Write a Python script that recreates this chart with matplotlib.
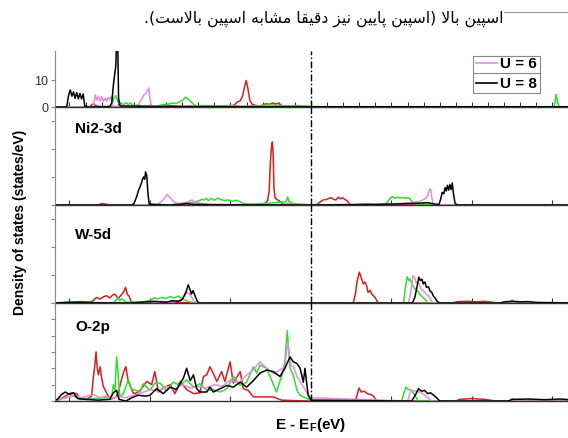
import matplotlib
matplotlib.use("Agg")
import matplotlib.pyplot as plt
from matplotlib.lines import Line2D
from matplotlib.patches import Rectangle
from matplotlib.ticker import MultipleLocator

plt.rcParams["font.family"] = ["Liberation Sans", "DejaVu Sans"]
plt.rcParams["mathtext.fontset"] = "custom"
plt.rcParams["mathtext.rm"] = "Liberation Sans:bold"
plt.rcParams["mathtext.bf"] = "Liberation Sans:bold"

# ---- data: (E - EF in eV, DOS) ----
caption = "اسپین بالا (اسپین پایین نیز دقیقا مشابه اسپین بالاست)."
legend_labels = ["U = 6", "U = 8"]
panel_names = ["", "Ni2-3d", "W-5d", "O-2p"]

top_red = [(-6.4, 0), (-5.5, 0), (-5.45, 0.8), (-5.4, 1.2), (-5.35, 0.5), (-5.2, 0), (-3.8, 0.2),
           (-3.5, 0.5), (-3.2, 0.2), (-2.5, 0.4), (-2.0, 0.2), (-1.9, 0.8), (-1.84, 1.8), (-1.76, 2.3),
           (-1.7, 4.0), (-1.65, 7.5), (-1.61, 9.8), (-1.57, 7.0), (-1.52, 2.5), (-1.46, 1.0), (-1.38, 0.6),
           (-1.25, 0.3), (-1.12, 1.2), (-1.02, 1.0), (-0.95, 1.5), (-0.88, 1.1), (-0.8, 1.4), (-0.73, 0.5),
           (-0.5, 0.2), (0, 0), (6.6, 0)]
top_green = [(-6.4, 0), (-5.0, 0), (-4.93, 1.5), (-4.89, 3.5), (-4.85, 4.2), (-4.81, 2.5), (-4.77, 1.2),
             (-4.72, 1.5), (-4.66, 0.8), (-4.6, 1.6), (-4.54, 1.0), (-4.48, 1.4), (-4.42, 0.5), (-4.3, 0.8),
             (-4.2, 0.3), (-4.0, 0.5), (-3.85, 0.3), (-3.7, 0.8), (-3.55, 1.0), (-3.45, 1.5), (-3.35, 1.3),
             (-3.25, 2.0), (-3.18, 2.6), (-3.12, 3.6), (-3.07, 3.2), (-3.0, 2.2), (-2.92, 1.0), (-2.85, 0.3),
             (-2.6, 0.5), (-2.3, 0.3), (-2.0, 0.6), (-1.7, 0.3), (-1.3, 0.5), (-1.0, 0.8), (-0.6, 0.4),
             (-0.3, 0.5), (0.0, 0.2), (0.5, 0), (6.0, 0), (6.05, 0.5), (6.09, 4.6), (6.13, 1.5), (6.17, 0),
             (6.6, 0)]
top_violet = [(-6.4, 0), (-5.45, 0), (-5.4, 1.0), (-5.36, 4.5), (-5.32, 2.5), (-5.28, 4.0), (-5.24, 2.2),
              (-5.2, 3.8), (-5.16, 2.0), (-5.12, 3.3), (-5.08, 2.2), (-5.04, 3.5), (-5.0, 2.8), (-4.96, 4.0),
              (-4.93, 0.3), (-4.5, 0.2), (-4.3, 0.5), (-4.25, 2.0), (-4.2, 3.0), (-4.15, 4.5), (-4.1, 5.2),
              (-4.06, 6.0), (-4.03, 7.0), (-4.0, 3.0), (-3.97, 0.3), (-3.0, 0.1), (0, 0), (6.6, 0)]
top_black = [(-6.4, 0), (-6.07, 0), (-6.02, 4.5), (-5.98, 6.3), (-5.94, 4.0), (-5.9, 5.6), (-5.86, 3.2),
             (-5.82, 5.3), (-5.78, 3.0), (-5.74, 5.0), (-5.7, 3.0), (-5.66, 4.8), (-5.62, 0.3), (-5.5, 0),
             (-5.0, 0.2), (-4.95, 1.5), (-4.91, 8), (-4.87, 13), (-4.85, 15), (-4.83, 24), (-4.8, 22),
             (-4.78, 3), (-4.74, 0.4), (-4.0, 0.2), (-2.0, 0.1), (0, 0.1), (6.6, 0.1)]

ni_red = [(-6.4, 0), (-5.3, 0), (-5.2, 0.5), (-5.1, 0.3), (-5.0, 0), (-1.3, 0), (-1.15, 0.5), (-1.08, 1.5),
          (-1.04, 5.0), (-1.01, 15.0), (-0.98, 21.0), (-0.96, 22.5), (-0.94, 18.0), (-0.92, 6.0),
          (-0.89, 2.5), (-0.85, 2.0), (-0.8, 1.6), (-0.75, 1.0), (-0.7, 0.3), (0, 0), (0.15, 0.2),
          (0.22, 1.0), (0.3, 1.8), (0.39, 2.0), (0.45, 2.4), (0.51, 2.6), (0.56, 2.0), (0.62, 1.8),
          (0.68, 2.8), (0.73, 2.2), (0.78, 2.6), (0.84, 2.0), (0.9, 1.5), (0.95, 0.5), (1.0, 0), (1.2, 0.2),
          (1.4, 0.3), (1.55, 0.1), (1.7, 0), (6.6, 0)]
ni_green = [(-6.4, 0), (-3.5, 0), (-3.3, 0.5), (-3.0, 0.8), (-2.78, 1.5), (-2.72, 2.0), (-2.66, 1.8),
            (-2.6, 2.4), (-2.55, 1.6), (-2.48, 2.3), (-2.4, 1.7), (-2.32, 2.5), (-2.25, 2.0), (-2.15, 1.6),
            (-2.05, 1.8), (-1.95, 1.3), (-1.85, 1.7), (-1.77, 1.2), (-1.7, 0.6), (-1.5, 0.3), (-1.2, 0.5),
            (-0.95, 0.8), (-0.75, 1.0), (-0.62, 1.2), (-0.58, 2.9), (-0.54, 1.0), (-0.4, 0.4), (-0.1, 0.2),
            (0, 0), (1.6, 0), (1.85, 0.3), (1.92, 1.5), (1.97, 2.5), (2.03, 3.0), (2.09, 2.4), (2.15, 2.8),
            (2.21, 2.5), (2.28, 2.7), (2.35, 2.4), (2.42, 2.6), (2.5, 1.5), (2.58, 0.3), (2.7, 0), (6.6, 0)]
ni_violet = [(-6.4, 0), (-3.8, 0), (-3.75, 0.8), (-3.68, 1.8), (-3.62, 2.8), (-3.57, 3.8), (-3.52, 2.8),
             (-3.46, 2.0), (-3.4, 1.0), (-3.3, 0.5), (-3.1, 0.8), (-2.95, 1.8), (-2.9, 1.2), (-2.8, 0.6),
             (-2.5, 0.3), (-2.0, 0.2), (0, 0.1), (1.8, 0.2), (2.2, 0.5), (2.5, 0.9), (2.7, 1.3), (2.8, 2.0),
             (2.86, 2.5), (2.9, 3.5), (2.94, 5.3), (2.97, 5.8), (3.0, 3.0), (3.03, 0.5), (3.1, 0), (6.6, 0)]
ni_black = [(-6.4, 0), (-4.45, 0), (-4.4, 0.5), (-4.33, 3.0), (-4.29, 5.0), (-4.25, 6.4), (-4.22, 7.5),
            (-4.19, 9.0), (-4.16, 10.0), (-4.13, 9.2), (-4.11, 11.8), (-4.08, 10.5), (-4.05, 4.0),
            (-4.02, 0.3), (-3.5, 0), (-3.2, 0.3), (-3.1, 0.6), (-3.0, 0.3), (-2.5, 0.1), (0, 0), (1.5, 0.2),
            (2.2, 0.4), (2.6, 0.6), (2.9, 0.8), (3.1, 0.3), (3.18, 0.2), (3.22, 2.0), (3.26, 4.5), (3.3, 4.0),
            (3.33, 6.2), (3.36, 5.0), (3.39, 7.0), (3.42, 5.3), (3.45, 7.3), (3.48, 5.5), (3.51, 7.8),
            (3.54, 4.0), (3.58, 0.5), (3.65, 0), (6.6, 0)]

w_red = [(-6.4, 0), (-6.0, 0.3), (-5.7, 0.5), (-5.5, 0.3), (-5.41, 0.8), (-5.33, 2.0), (-5.24, 1.4),
         (-5.16, 2.2), (-5.08, 2.6), (-5.0, 1.8), (-4.93, 2.8), (-4.87, 3.2), (-4.79, 1.5), (-4.72, 2.8),
         (-4.66, 3.8), (-4.61, 5.6), (-4.56, 3.0), (-4.52, 2.5), (-4.47, 0.5), (-4.4, 0), (-3.5, 0.2),
         (-3.0, 0.1), (0, 0), (1.05, 0), (1.1, 3.0), (1.15, 8.0), (1.2, 11.0), (1.25, 9.0), (1.3, 6.8),
         (1.34, 7.5), (1.38, 6.2), (1.42, 3.8), (1.47, 4.5), (1.51, 3.2), (1.56, 2.5), (1.59, 2.0),
         (1.63, 1.0), (1.67, 0), (3.5, 0), (3.65, 0.5), (3.9, 0.6), (4.1, 0.4), (4.3, 0.6), (4.5, 0.3),
         (4.6, 0), (6.6, 0)]
w_green = [(-6.4, 0), (-4.9, 0), (-4.85, 1.0), (-4.8, 1.8), (-4.75, 0.8), (-4.7, 1.5), (-4.6, 0.3),
           (-4.2, 0.3), (-4.0, 1.0), (-3.9, 1.8), (-3.8, 1.5), (-3.7, 2.0), (-3.6, 1.6), (-3.5, 2.3),
           (-3.4, 1.8), (-3.3, 2.5), (-3.2, 1.5), (-3.1, 0.8), (-3.0, 0.3), (-2.9, 0), (0, 0), (2.3, 0),
           (2.34, 5.0), (2.39, 9.4), (2.43, 8.0), (2.46, 8.6), (2.52, 6.5), (2.58, 5.0), (2.64, 4.5),
           (2.71, 3.0), (2.78, 2.0), (2.85, 1.0), (2.9, 0), (4.9, 0), (4.95, 0.5), (5.0, 1.0), (5.05, 0.3),
           (5.1, 0), (6.6, 0)]
w_violet = [(-6.4, 0), (-3.5, 0), (-3.3, 0.8), (-3.2, 1.5), (-3.12, 3.0), (-3.08, 3.8), (-3.02, 3.2),
            (-2.96, 2.0), (-2.9, 0.5), (-2.8, 0), (0, 0), (2.42, 0), (2.48, 4.0), (2.54, 9.8), (2.59, 8.5),
            (2.62, 7.0), (2.67, 7.5), (2.72, 5.5), (2.78, 4.5), (2.84, 3.5), (2.92, 2.5), (2.98, 1.0),
            (3.04, 0), (6.6, 0)]
w_black = [(-6.4, 0), (-6.0, 0.2), (-5.5, 0.1), (-4.5, 0), (-4.2, 0.3), (-3.9, 0.6), (-3.6, 0.3),
           (-3.45, 0.8), (-3.3, 0.6), (-3.22, 1.0), (-3.17, 2.0), (-3.12, 3.5), (-3.08, 5.0), (-3.05, 6.5),
           (-3.01, 5.0), (-2.97, 3.2), (-2.93, 4.4), (-2.88, 2.5), (-2.82, 0.5), (-2.78, 0), (0, 0),
           (2.52, 0), (2.58, 2.0), (2.63, 5.5), (2.68, 9.2), (2.72, 8.0), (2.76, 8.5), (2.79, 6.8),
           (2.83, 7.5), (2.87, 5.6), (2.92, 5.8), (2.96, 4.2), (3.0, 3.8), (3.04, 2.5), (3.08, 1.8),
           (3.14, 0.5), (3.2, 0), (4.7, 0), (4.8, 0.4), (5.0, 0.6), (5.2, 0.4), (5.4, 0.5), (5.6, 0.2),
           (6.6, 0)]

o_red = [(-6.4, 0), (-6.32, 0), (-6.03, 0.4), (-5.95, 0.5), (-5.82, 0.45), (-5.74, 0.1), (-5.57, 0.1),
         (-5.45, 0.3), (-5.41, 1.4), (-5.37, 2.2), (-5.34, 3.0), (-5.31, 2.0), (-5.28, 1.6), (-5.24, 2.1),
         (-5.2, 1.4), (-5.16, 0.9), (-5.08, 0.5), (-4.99, 0.1), (-4.87, 0.2), (-4.79, 0.5), (-4.7, 1.4),
         (-4.65, 1.8), (-4.6, 2.1), (-4.54, 1.2), (-4.41, 0.45), (-4.33, 0.5), (-4.25, 0.65), (-4.17, 0.9),
         (-4.08, 1.2), (-3.96, 1.0), (-3.88, 1.8), (-3.79, 0.55), (-3.67, 0.8), (-3.5, 1.0), (-3.38, 0.45),
         (-3.25, 1.2), (-3.09, 0.7), (-2.92, 0.45), (-2.76, 0.5), (-2.67, 1.5), (-2.59, 1.6), (-2.51, 2.1),
         (-2.43, 1.7), (-2.34, 1.2), (-2.22, 1.8), (-2.14, 1.2), (-2.01, 2.4), (-1.93, 1.1), (-1.76, 1.8),
         (-1.68, 0.75), (-1.56, 0.65), (-1.43, 0.25), (-1.27, 0.25), (-0.94, 0.25), (-0.73, 0.05),
         (-0.1, 0), (1.1, 0), (1.15, 0.4), (1.19, 0.8), (1.25, 0.55), (1.32, 0.6), (1.4, 0.45),
         (1.48, 0.4), (1.55, 0.3), (1.63, 0), (3.6, 0), (3.7, 0.1), (4.0, 0.15), (4.3, 0.1), (4.6, 0),
         (6.6, 0)]
o_green = [(-6.4, 0), (-6.1, 0.2), (-5.9, 0.3), (-5.7, 0.1), (-5.4, 0.15), (-5.1, 0.2), (-4.95, 0.3),
           (-4.91, 1.0), (-4.87, 0.65), (-4.83, 2.7), (-4.79, 1.6), (-4.75, 0.25), (-4.66, 0.45),
           (-4.54, 1.3), (-4.46, 0.75), (-4.25, 0.55), (-4.17, 1.05), (-4.0, 0.65), (-3.88, 1.1),
           (-3.75, 1.1), (-3.59, 0.65), (-3.42, 1.15), (-3.25, 0.95), (-3.09, 1.3), (-2.92, 0.85),
           (-2.76, 1.05), (-2.59, 0.65), (-2.43, 0.7), (-2.26, 0.55), (-2.09, 0.75), (-1.93, 1.5),
           (-1.76, 0.95), (-1.6, 1.15), (-1.43, 2.1), (-1.35, 1.7), (-1.27, 2.2), (-1.1, 2.0), (-0.94, 1.05),
           (-0.86, 0.55), (-0.73, 1.5), (-0.65, 2.4), (-0.59, 4.3), (-0.52, 2.0), (-0.44, 1.6),
           (-0.35, 0.65), (-0.27, 0.35), (-0.1, 0.15), (0, 0.05), (2.25, 0), (2.31, 0.5), (2.36, 0.85),
           (2.42, 0.7), (2.5, 0.65), (2.58, 0.35), (2.66, 0), (4.95, 0), (5.0, 0.15), (5.05, 0), (6.6, 0)]
o_violet = [(-6.4, 0), (-6.1, 0.2), (-5.9, 0.35), (-5.7, 0.2), (-5.55, 0.3), (-5.4, 0.4), (-5.25, 0.2),
            (-5.1, 0.3), (-4.95, 0.15), (-4.8, 0.3), (-4.6, 0.2), (-4.4, 0.35), (-4.2, 0.5), (-4.0, 0.7),
            (-3.8, 0.6), (-3.6, 0.9), (-3.4, 0.7), (-3.2, 1.0), (-3.0, 0.8), (-2.8, 0.9), (-2.6, 0.8),
            (-2.4, 1.0), (-2.2, 0.9), (-2.0, 1.3), (-1.8, 1.1), (-1.6, 1.6), (-1.43, 1.9), (-1.27, 2.4),
            (-1.1, 2.0), (-0.94, 1.7), (-0.77, 1.9), (-0.65, 2.1), (-0.58, 3.6), (-0.5, 2.2), (-0.44, 2.1),
            (-0.35, 1.5), (-0.2, 0.9), (-0.1, 0.5), (0, 0.2), (2.4, 0), (2.46, 0.5), (2.52, 0.65),
            (2.6, 0.6), (2.7, 0.55), (2.8, 0.4), (2.9, 0.2), (3.0, 0), (6.6, 0)]
o_black = [(-6.4, 0), (-6.3, 0.1), (-6.2, 0.4), (-6.1, 0.55), (-6.0, 0.4), (-5.9, 0.5), (-5.8, 0.15),
           (-5.6, 0.1), (-5.3, 0.05), (-5.0, 0.1), (-4.91, 0.5), (-4.83, 0.65), (-4.77, 0.1), (-4.6, 0.0),
           (-4.45, 0.2), (-4.3, 0.35), (-4.1, 0.3), (-4.0, 0.35), (-3.84, 0.75), (-3.67, 0.45),
           (-3.5, 0.85), (-3.34, 0.7), (-3.17, 1.4), (-3.09, 2.0), (-3.0, 1.25), (-2.92, 1.6), (-2.84, 0.75),
           (-2.76, 0.55), (-2.59, 0.55), (-2.51, 0.85), (-2.43, 0.55), (-2.26, 0.75), (-2.09, 0.95),
           (-1.93, 0.85), (-1.76, 1.15), (-1.6, 0.85), (-1.43, 1.25), (-1.27, 1.7), (-1.1, 1.9),
           (-0.94, 1.8), (-0.77, 1.5), (-0.65, 2.0), (-0.52, 2.7), (-0.44, 2.4), (-0.35, 2.3), (-0.27, 2.0),
           (-0.19, 1.15), (-0.15, 2.0), (-0.07, 0.35), (0, 0.05), (2.5, 0), (2.6, 0.4), (2.67, 0.75),
           (2.75, 0.6), (2.82, 0.65), (2.9, 0.45), (2.97, 0.5), (3.05, 0.35), (3.12, 0.2), (3.2, 0),
           (4.9, 0), (5.0, 0.1), (5.4, 0.12), (5.8, 0.08), (6.2, 0.12), (6.6, 0.05)]

panels = [
    [top_red, top_green, top_violet, top_black],
    [ni_red, ni_green, ni_violet, ni_black],
    [w_red, w_green, w_violet, w_black],
    [o_red, o_green, o_violet, o_black],
]
ylims = [(0, 20.7), (0, 35), (0, 35), (0, 6)]
ytick_step = [10, 10, 10, 1]
colors = ["#d81e1e", "#2ee02e", "#e58be5", "#000000"]

# ---- Persian caption: simple shaping + visual (RTL) ordering ----
FORMS = {
    "ا": ("\uFE8D", "\uFE8E", None, None), "د": ("\uFEA9", "\uFEAA", None, None),
    "ز": ("\uFEAF", "\uFEB0", None, None),
    "ب": ("\uFE8F", "\uFE90", "\uFE91", "\uFE92"), "پ": ("\uFB56", "\uFB57", "\uFB58", "\uFB59"),
    "ت": ("\uFE95", "\uFE96", "\uFE97", "\uFE98"), "س": ("\uFEB1", "\uFEB2", "\uFEB3", "\uFEB4"),
    "ش": ("\uFEB5", "\uFEB6", "\uFEB7", "\uFEB8"), "ق": ("\uFED5", "\uFED6", "\uFED7", "\uFED8"),
    "ل": ("\uFEDD", "\uFEDE", "\uFEDF", "\uFEE0"), "م": ("\uFEE1", "\uFEE2", "\uFEE3", "\uFEE4"),
    "ن": ("\uFEE5", "\uFEE6", "\uFEE7", "\uFEE8"), "ه": ("\uFEE9", "\uFEEA", "\uFEEB", "\uFEEC"),
    "ی": ("\uFBFC", "\uFBFD", "\uFBFE", "\uFBFF"),
}


def shape_rtl(s):
    out = []
    i = 0
    while i < len(s):
        c = s[i]
        if c not in FORMS:
            out.append(c)
            i += 1
            continue
        prev_j = i > 0 and s[i - 1] in FORMS and FORMS[s[i - 1]][2] is not None
        if c == "ل" and i + 1 < len(s) and s[i + 1] == "ا":
            out.append("\uFEFC" if prev_j else "\uFEFB")
            i += 2
            continue
        next_j = i + 1 < len(s) and s[i + 1] in FORMS and FORMS[c][2] is not None
        iso, fin, ini, med = FORMS[c]
        if prev_j and next_j:
            out.append(med)
        elif prev_j:
            out.append(fin)
        elif next_j:
            out.append(ini)
        else:
            out.append(iso)
        i += 1
    swap = {"(": ")", ")": "("}
    return "".join(swap.get(ch, ch) for ch in reversed(out))


W, H = 568, 439
fig = plt.figure(figsize=(W / 100, H / 100), dpi=100)

bounds = [(52, 108), (108, 206), (206, 304), (304, 402)]  # top/bottom in pixels
x_left, x_right = -6.36, 6.6
px_per_ev = 40.25
ax_w = (x_right - x_left) * px_per_ev / W

for k, (series, (top, bot)) in enumerate(zip(panels, bounds)):
    ax = fig.add_axes([55 / W, 1 - bot / H, ax_w, (bot - top) / H])
    for pts, c in zip(series, colors):
        e, d = zip(*pts)
        ax.plot(e, d, color=c, lw=1.1)
    ax.axvline(0, color="k", lw=1.0, ls=(0, (5, 1.6, 1.2, 1.6)))
    ax.set_xlim(x_left, x_right)
    ax.set_ylim(*ylims[k])
    ax.yaxis.set_major_locator(MultipleLocator(ytick_step[k]))
    ax.xaxis.set_major_locator(MultipleLocator(0.4 if k == 0 else 2))
    ax.tick_params(axis="x", direction="in", length=3.5, width=0.8, colors="#333333",
                   labelbottom=False)
    ax.tick_params(axis="y", direction="out", length=3, width=0.8, colors="#888888",
                   labelleft=(k == 0), labelsize=9, labelcolor="#333333", pad=2)
    if k == 0:
        ax.set_yticks([0, 10])
    ax.spines["top"].set_visible(False)
    ax.spines["right"].set_visible(False)
    ax.spines["left"].set_color("#888888")
    ax.spines["left"].set_linewidth(0.8)
    ax.spines["bottom"].set_color("#333333")
    ax.spines["bottom"].set_linewidth(1.0)
    ax.patch.set_alpha(0)
    if panel_names[k]:
        ypos = {1: 0.79, 2: 0.70, 3: 0.77}[k]
        ax.text(20 / (ax_w * W), ypos, panel_names[k], transform=ax.transAxes,
                fontsize=11, fontweight="bold", va="center", ha="left")

# legend box (entries for the visible curves)
fig.add_artist(Rectangle((473 / W, 1 - 94 / H), 67 / W, 37 / H, transform=fig.transFigure,
                         facecolor="white", edgecolor="#888888", lw=0.8, zorder=5))
fig.add_artist(Line2D([473 / W, 540 / W], [1 - 74 / H] * 2, color="#888888", lw=0.8, zorder=6))
for lab, c, yp in zip(legend_labels, colors[2:], [64, 84]):
    fig.add_artist(Line2D([476 / W, 497 / W], [1 - yp / H] * 2, color=c, lw=1.2, zorder=6))
    fig.text(500 / W, 1 - yp / H, lab, fontsize=11, fontweight="bold", va="center", ha="left",
             zorder=6)

fig.text(311 / W, 1 - 425 / H, r"E - E$_{\mathbf{F}}$(eV)", fontsize=11, fontweight="bold",
         ha="center", va="center")
fig.text(20 / W, 1 - 222 / H, "Density of states (states/eV)", fontsize=10, fontweight="bold",
         rotation=90, ha="center", va="center")

# caption with a connector line, as in the screenshot
fig.text(504 / W, 1 - 19 / H, shape_rtl(caption), fontsize=11.3, family="DejaVu Sans",
         ha="right", va="center")
fig.add_artist(Line2D([504 / W, 1.0], [1 - 13 / H] * 2, color="#999999", lw=0.8))

fig.savefig("out.png", dpi=100)
